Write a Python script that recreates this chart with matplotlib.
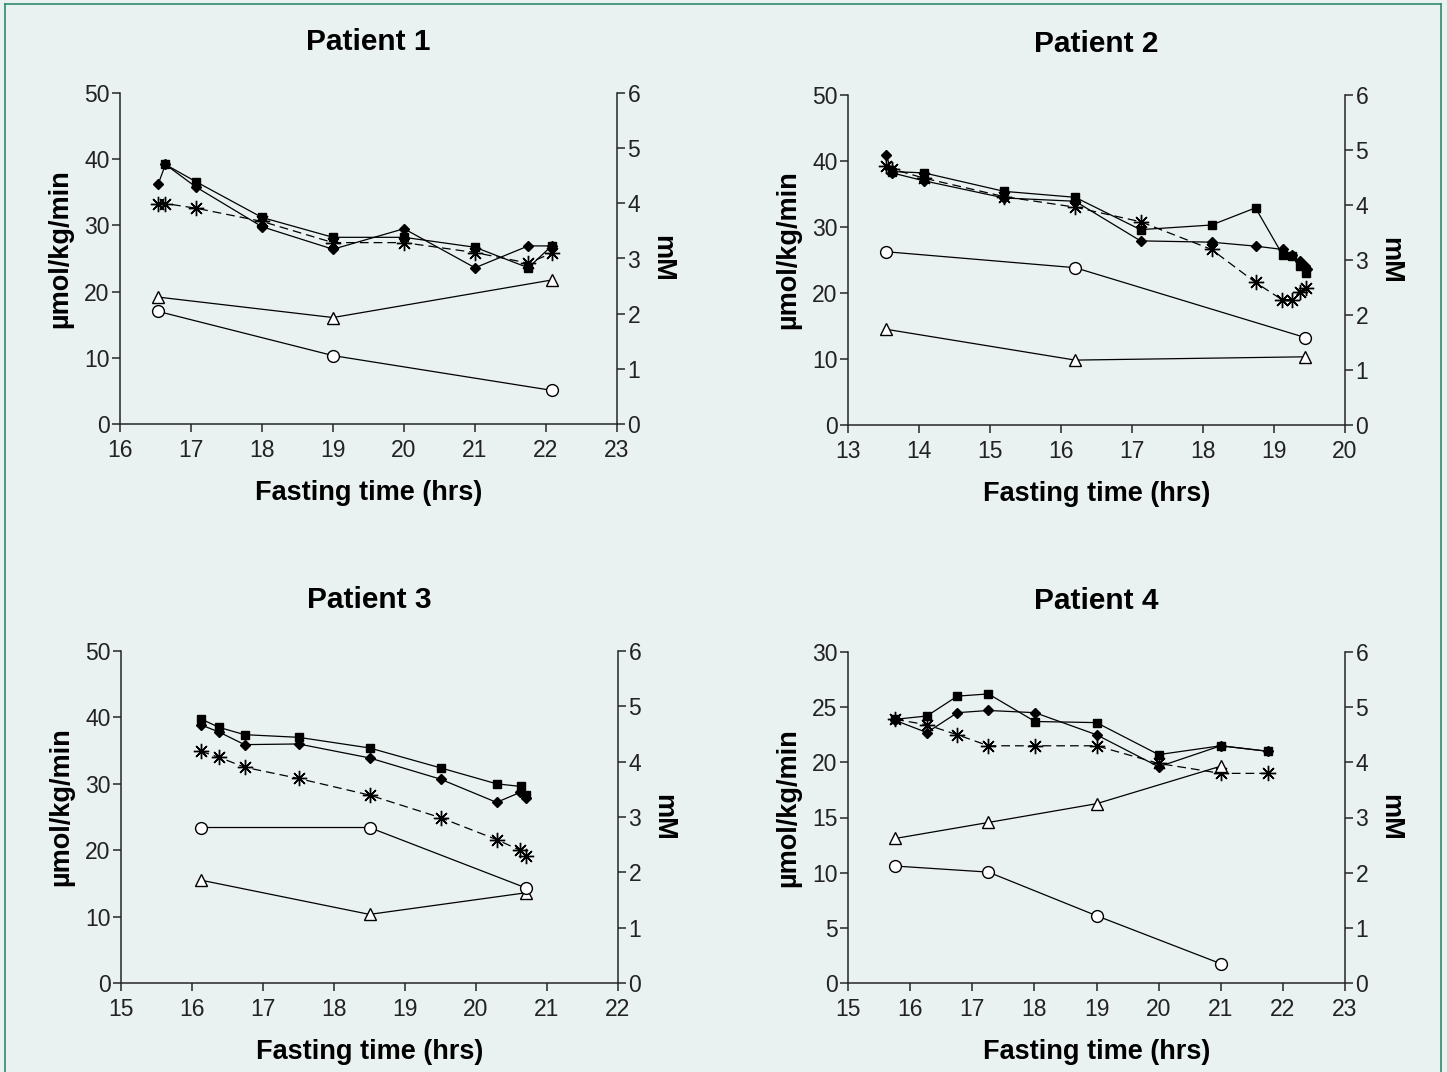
import matplotlib.pyplot as plt
from matplotlib.lines import Line2D

plt.rcParams['font.family'] = ['Liberation Sans', 'DejaVu Sans']

bg = '#e9f2f0'

# Patient 1 (left axis: umol/kg/min, right axis: mM)
p1_t_dia = [16.54, 16.64, 17.07, 18.0, 19.0, 20.0, 21.0, 21.75, 22.08]
p1_dia = [36.3, 39.2, 35.8, 29.8, 26.4, 29.5, 23.6, 26.9, 26.9]
p1_t_sq = [16.64, 17.07, 18.0, 19.0, 20.0, 21.0, 21.75, 22.08]
p1_sq = [39.2, 36.6, 31.2, 28.2, 28.2, 26.7, 23.6, 26.9]
p1_t_star = [16.54, 16.64, 17.07, 18.0, 19.0, 20.0, 21.0, 21.75, 22.08]
p1_star = [33.3, 33.3, 32.6, 30.6, 27.4, 27.4, 25.9, 24.3, 25.8]
p1_t_tri = [16.54, 19.0, 22.08]
p1_tri = [2.30, 1.93, 2.61]
p1_t_circ = [16.54, 19.0, 22.08]
p1_circ = [2.04, 1.24, 0.61]

# Patient 2
p2_t_dia = [13.54, 13.62, 14.07, 15.2, 16.2, 17.12, 18.12, 18.74, 19.12, 19.26, 19.36, 19.43, 19.46]
p2_dia = [40.9, 38.2, 37.0, 34.4, 33.9, 27.9, 27.7, 27.1, 26.6, 25.7, 24.8, 24.1, 23.6]
p2_t_sq = [13.62, 14.07, 15.2, 16.2, 17.12, 18.12, 18.74, 19.12, 19.26, 19.36, 19.45]
p2_sq = [38.4, 38.2, 35.4, 34.5, 29.6, 30.3, 32.9, 25.8, 25.6, 24.1, 23.1]
p2_t_star = [13.54, 13.62, 14.07, 15.2, 16.2, 17.12, 18.12, 18.74, 19.11, 19.26, 19.36, 19.45]
p2_star = [39.2, 38.8, 37.4, 34.6, 33.0, 30.8, 26.6, 21.6, 19.0, 19.0, 20.2, 20.8]
p2_t_tri = [13.54, 16.2, 19.44]
p2_tri = [1.74, 1.18, 1.24]
p2_t_circ = [13.54, 16.2, 19.44]
p2_circ = [3.15, 2.86, 1.59]

# Patient 3
p3_t_dia = [16.12, 16.38, 16.74, 17.5, 18.5, 19.5, 20.29, 20.62, 20.71]
p3_dia = [38.9, 37.8, 35.9, 36.0, 33.9, 30.7, 27.2, 28.7, 27.9]
p3_t_sq = [16.12, 16.38, 16.74, 17.5, 18.5, 19.5, 20.29, 20.63, 20.70]
p3_sq = [39.8, 38.5, 37.4, 37.0, 35.4, 32.4, 30.0, 29.6, 28.3]
p3_t_star = [16.12, 16.38, 16.74, 17.5, 18.5, 19.5, 20.29, 20.62, 20.71]
p3_star = [34.9, 34.0, 32.5, 30.8, 28.3, 24.9, 21.6, 20.0, 19.1]
p3_t_tri = [16.12, 18.5, 20.7]
p3_tri = [1.86, 1.24, 1.63]
p3_t_circ = [16.12, 18.5, 20.7]
p3_circ = [2.81, 2.81, 1.72]

# Patient 4
p4_t_dia = [15.76, 16.27, 16.76, 17.26, 18.01, 19.0, 20.0, 21.0, 21.76]
p4_dia = [23.8, 22.7, 24.5, 24.7, 24.5, 22.5, 19.6, 21.5, 21.0]
p4_t_sq = [15.76, 16.27, 16.76, 17.26, 18.01, 19.0, 20.0, 21.0, 21.76]
p4_sq = [23.9, 24.2, 26.0, 26.2, 23.7, 23.6, 20.7, 21.5, 21.0]
p4_t_star = [15.76, 16.27, 16.76, 17.26, 18.01, 19.0, 20.0, 21.0, 21.76]
p4_star = [23.9, 23.4, 22.5, 21.5, 21.5, 21.5, 19.9, 19.0, 19.0]
p4_t_tri = [15.76, 17.26, 19.0, 21.0]
p4_tri = [2.62, 2.91, 3.25, 3.93]
p4_t_circ = [15.76, 17.26, 19.0, 21.0]
p4_circ = [2.12, 2.01, 1.22, 0.35]

titles = ['Patient 1', 'Patient 2', 'Patient 3', 'Patient 4']
xlims = [(16, 23), (13, 20), (15, 22), (15, 23)]
ylims_left = [50, 50, 50, 30]
ysteps_left = [10, 10, 10, 5]

panels = [
    (p1_t_dia, p1_dia, p1_t_sq, p1_sq, p1_t_star, p1_star, p1_t_tri, p1_tri, p1_t_circ, p1_circ),
    (p2_t_dia, p2_dia, p2_t_sq, p2_sq, p2_t_star, p2_star, p2_t_tri, p2_tri, p2_t_circ, p2_circ),
    (p3_t_dia, p3_dia, p3_t_sq, p3_sq, p3_t_star, p3_star, p3_t_tri, p3_tri, p3_t_circ, p3_circ),
    (p4_t_dia, p4_dia, p4_t_sq, p4_sq, p4_t_star, p4_star, p4_t_tri, p4_tri, p4_t_circ, p4_circ),
]

W, H = 1447, 1072
# axes boxes in pixels: left, top, right, bottom
boxes = [(120, 93, 617, 424), (848, 95, 1345, 425), (121, 651, 618, 983), (848, 652, 1345, 983)]

fig = plt.figure(figsize=(W / 100, H / 100), dpi=100, facecolor=bg)

# thin green frame around the figure
frame_col = '#2f8a6c'
fig.add_artist(Line2D([5 / W, 5 / W], [0, 1 - 4 / H], color=frame_col, lw=1.2))
fig.add_artist(Line2D([5 / W, 1441 / W], [1 - 4 / H, 1 - 4 / H], color=frame_col, lw=1.2))
fig.add_artist(Line2D([1441 / W, 1441 / W], [0, 1 - 4 / H], color=frame_col, lw=1.2))

lw = 0.9
spine_col = '#262626'

for i in range(4):
    l, t, r, b = boxes[i]
    ax = fig.add_axes([l / W, 1 - b / H, (r - l) / W, (b - t) / H])
    ax.set_facecolor(bg)
    ax2 = ax.twinx()

    (td, d, ts, s, tst, st, ttr, tr, tc, c) = panels[i]

    ax.plot(td, d, color='black', lw=lw, marker='D', ms=5.5, mfc='black', mec='black', zorder=3)
    ax.plot(ts, s, color='black', lw=lw, marker='s', ms=5.5, mfc='black', mec='black', zorder=3)
    ax.plot(tst, st, color='black', lw=lw, ls=(0, (7, 4)), marker=(8, 2, 0), ms=11, mew=1.0,
            mec='black', zorder=3)
    ax2.plot(ttr, tr, color='black', lw=lw, marker='^', ms=8.5, mfc='white', mec='black', mew=1.0)
    ax2.plot(tc, c, color='black', lw=lw, marker='o', ms=8.5, mfc='white', mec='black', mew=1.0)

    ax.set_xlim(*xlims[i])
    ax.set_xticks(range(xlims[i][0], xlims[i][1] + 1))
    ax.set_ylim(0, ylims_left[i])
    ax.set_yticks(range(0, ylims_left[i] + 1, ysteps_left[i]))
    ax2.set_ylim(0, 6)
    ax2.set_yticks(range(0, 7))

    for a in (ax, ax2):
        a.spines['top'].set_visible(False)
        for sp in a.spines.values():
            sp.set_linewidth(1.1)
            sp.set_color(spine_col)
        a.tick_params(direction='out', length=6, width=1.1, color=spine_col,
                      labelsize=16.5, pad=1.5, labelcolor='#222222')
    ax.tick_params(axis='x', pad=5)
    ax.spines['right'].set_visible(False)
    ax2.spines['left'].set_visible(False)
    ax2.spines['bottom'].set_visible(False)

    ax.set_title(titles[i], fontsize=21.5, fontweight='bold', pad=31)
    ax.set_xlabel('Fasting time (hrs)', fontsize=19.5, fontweight='bold', labelpad=13)
    ax.set_ylabel('\u00b5mol/kg/min', fontsize=19.5, fontweight='bold', labelpad=7)
    ax2.set_ylabel('mM', fontsize=19.5, fontweight='bold', rotation=270, labelpad=25)
    ax.yaxis.set_label_coords(-0.095, 0.53)

fig.savefig('out.png', dpi=100, facecolor=bg)
